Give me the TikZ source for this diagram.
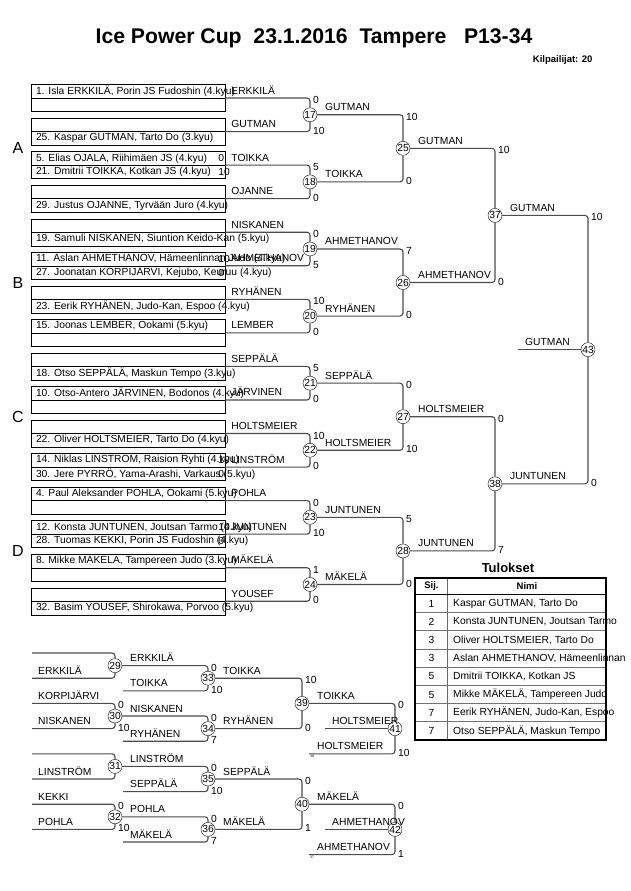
\documentclass[tikz,border=0pt]{standalone}
\usepackage{fontspec}
\setmainfont{Liberation Sans}
\usetikzlibrary{positioning, calc}

\begin{document}
\begin{tikzpicture}[x=1pt, y=-1pt,
        pairbox/.style={rectangle, draw, minimum width=194pt, minimum height=27pt, inner sep=0pt},
        entry/.style={anchor=west, inner sep=0pt, font=\fontsize{10.3}{12}\selectfont},
        plname/.style={anchor=base west, inner sep=0pt, font=\fontsize{10.3}{12}\selectfont},
        pts/.style={anchor=west, inner sep=0pt, font=\fontsize{10.3}{12}\selectfont},
        match/.style={circle, draw, fill=white, minimum size=14pt, inner sep=0pt, font=\fontsize{10.3}{12}\selectfont},
        conn/.style={draw=black!70, line width=1.1pt, rounded corners=3pt},
        pool/.style={font=\fontsize{16}{18}\selectfont}
    ]
        \useasboundingbox[fill=white] (0,0) rectangle (630,891);

        % Title
        \node[font=\fontsize{21.2}{25}\selectfont\bfseries] (title) at (314,38) {Ice Power Cup~~23.1.2016~~Tampere~~~P13-34};
        \node[anchor=east, font=\fontsize{9.5}{11}\selectfont\bfseries] (count) at (596,60) {Kilpailijat: 20};

        % Pools
        \node[pool] (poolA) at (18,148.3) {A};
        \node[pool] (poolB) at (18,282.5) {B};
        \node[pool] (poolC) at (18,416.7) {C};
        \node[pool] (poolD) at (18,550.9) {D};

        % Entry boxes
        \foreach \k/\ta/\tb/\who in {
            1/{1. Isla ERKKILÄ, Porin JS Fudoshin (4.kyu)}/{}/ERKKILÄ,
            2/{}/{25. Kaspar GUTMAN, Tarto Do (3.kyu)}/GUTMAN,
            3/{5. Elias OJALA, Riihimäen JS (4.kyu)}/{21. Dmitrii TOIKKA, Kotkan JS (4.kyu)}/TOIKKA,
            4/{}/{29. Justus OJANNE, Tyrvään Juro (4.kyu)}/OJANNE,
            5/{}/{19. Samuli NISKANEN, Siuntion Keido-Kan (5.kyu)}/NISKANEN,
            6/{11. Aslan AHMETHANOV, Hämeenlinnan Judo (4.kyu)}/{27. Joonatan KORPIJÄRVI, Kejubo, Keuruu (4.kyu)}/AHMETHANOV,
            7/{}/{23. Eerik RYHÄNEN, Judo-Kan, Espoo (4.kyu)}/RYHÄNEN,
            8/{15. Joonas LEMBER, Ookami (5.kyu)}/{}/LEMBER,
            9/{}/{18. Otso SEPPÄLÄ, Maskun Tempo (3.kyu)}/SEPPÄLÄ,
            10/{10. Otso-Antero JÄRVINEN, Bodonos (4.kyu)}/{}/JÄRVINEN,
            11/{}/{22. Oliver HOLTSMEIER, Tarto Do (4.kyu)}/HOLTSMEIER,
            12/{14. Niklas LINSTROM, Raision Ryhti (4.kyu)}/{30. Jere PYRRÖ, Yama-Arashi, Varkaus (5.kyu)}/LINSTRÖM,
            13/{4. Paul Aleksander POHLA, Ookami (5.kyu)}/{}/POHLA,
            14/{12. Konsta JUNTUNEN, Joutsan Tarmo (4.kyu)}/{28. Tuomas KEKKI, Porin JS Fudoshin (4.kyu)}/JUNTUNEN,
            15/{8. Mikke MAKELA, Tampereen Judo (3.kyu)}/{}/MÄKELÄ,
            16/{}/{32. Basim YOUSEF, Shirokawa, Porvoo (5.kyu)}/YOUSEF}{
            \pgfmathsetmacro\yk{98+(\k-1)*33.55}
            \node[pairbox] (p\k) at (128,\yk) {};
            \draw (p\k.west) -- (p\k.east);
            \node[entry] at ([xshift=5pt, yshift=6.75pt]p\k.west) {\ta};
            \node[entry] at ([xshift=5pt, yshift=-6.75pt]p\k.west) {\tb};
            \node[plname] at ([xshift=6pt, yshift=4pt]p\k.east) {\who};
        }

        % Scores of the first bouts
        \node[pts] at ([xshift=-7pt, yshift=6.75pt]p3.east) {0};
        \node[pts] at ([xshift=-7pt, yshift=-6.75pt]p3.east) {10};
        \node[pts] at ([xshift=-7pt, yshift=6.75pt]p6.east) {10};
        \node[pts] at ([xshift=-7pt, yshift=-6.75pt]p6.east) {0};
        \node[pts] at ([xshift=-7pt, yshift=6.75pt]p12.east) {10};
        \node[pts] at ([xshift=-7pt, yshift=-6.75pt]p12.east) {0};
        \node[pts] at ([xshift=-7pt, yshift=6.75pt]p14.east) {10};
        \node[pts] at ([xshift=-7pt, yshift=-6.75pt]p14.east) {0};

        % Matches
        \foreach \m/\x/\y in {17/310/114.78, 18/310/181.88, 19/310/248.98, 20/310/316.08,
            21/310/383.18, 22/310/450.28, 23/310/517.38, 24/310/584.48,
            25/403/148.33, 26/403/282.53, 27/403/416.73, 28/403/550.93,
            37/495/215.43, 38/495/483.83, 43/588/349.63,
            29/115/665.6, 30/115/716, 31/115/766.4, 32/115/816.8,
            33/208/678.2, 34/208/728.6, 35/208/779, 36/208/829.4,
            39/302/703.4, 40/302/804.2, 41/395/728.6, 42/395/829.4}
            \node[match] (m\m) at (\x,\y) {\m};

        % Repechage line ends
        \foreach \i/\y in {1/653, 2/678.2, 3/703.4, 4/728.6, 5/753.8, 6/779, 7/804.2, 8/829.4}
            \coordinate (r\i) at (32,\y);
        \coordinate (s33) at (123,690.8);
        \coordinate (s34) at (123,741.2);
        \coordinate (s35) at (123,791.6);
        \coordinate (s36) at (123,842);
        \coordinate (s41) at (309,753.8);
        \coordinate (s42) at (309,854.6);
        \coordinate (w41) at (325,728.6);
        \coordinate (w42) at (325,829.4);
        \coordinate (w43) at (518,349.63);

        % Connectors
        \foreach \a/\b in {p1/m17, p2/m17, p3/m18, p4/m18, p5/m19, p6/m19, p7/m20, p8/m20,
            p9/m21, p10/m21, p11/m22, p12/m22, p13/m23, p14/m23, p15/m24, p16/m24,
            m17/m25, m18/m25, m19/m26, m20/m26, m21/m27, m22/m27, m23/m28, m24/m28,
            m25/m37, m26/m37, m27/m38, m28/m38, m37/m43, m38/m43,
            r1/m29, r2/m29, r3/m30, r4/m30, r5/m31, r6/m31, r7/m32, r8/m32,
            m29/m33, s33/m33, m30/m34, s34/m34, m31/m35, s35/m35, m32/m36, s36/m36,
            m33/m39, m34/m39, m35/m40, m36/m40, m39/m41, s41/m41, m40/m42, s42/m42}
            \draw[conn] (\a) -| (\b);
        \draw[conn] (w41) -- (m41);
        \draw[conn] (w42) -- (m42);
        \draw[conn] (w43) -- (m43);

        % Scores
        \foreach \a/\b/\s/\d in {p1/m17/0/2, p2/m17/10/-1, p3/m18/5/2, p4/m18/0/-1,
            p5/m19/0/2, p6/m19/5/-1, p7/m20/10/2, p8/m20/0/-1,
            p9/m21/5/2, p10/m21/0/-1, p11/m22/10/2, p12/m22/0/-1,
            p13/m23/0/2, p14/m23/10/-1, p15/m24/1/2, p16/m24/0/-1,
            m17/m25/10/2, m18/m25/0/-1, m19/m26/7/2, m20/m26/0/-1,
            m21/m27/0/2, m22/m27/10/-1, m23/m28/5/2, m24/m28/0/-1,
            m25/m37/10/2, m26/m37/0/-1, m27/m38/0/2, m28/m38/7/-1,
            m37/m43/10/2, m38/m43/0/-1,
            r3/m30/0/2, r4/m30/10/-1, r7/m32/0/2, r8/m32/10/-1,
            m29/m33/0/2, s33/m33/10/-1, m30/m34/0/2, s34/m34/7/-1,
            m31/m35/0/2, s35/m35/10/-1, m32/m36/0/2, s36/m36/7/-1,
            m33/m39/10/2, m34/m39/0/-1, m35/m40/0/2, m36/m40/1/-1,
            m39/m41/0/2, s41/m41/10/-1, m40/m42/0/2, s42/m42/1/-1}
            \node[pts] at ($(\a -| \b)+(3,\d)$) {\s};

        % Winners
        \foreach \m/\w in {17/GUTMAN, 18/TOIKKA, 19/AHMETHANOV, 20/RYHÄNEN, 21/SEPPÄLÄ,
            22/HOLTSMEIER, 23/JUNTUNEN, 24/MÄKELÄ, 25/GUTMAN, 26/AHMETHANOV,
            27/HOLTSMEIER, 28/JUNTUNEN, 37/GUTMAN, 38/JUNTUNEN,
            29/ERKKILÄ, 30/NISKANEN, 31/LINSTRÖM, 32/POHLA, 33/TOIKKA,
            34/RYHÄNEN, 35/SEPPÄLÄ, 36/MÄKELÄ, 39/TOIKKA, 40/MÄKELÄ}
            \node[plname] at ($(m\m)+(15,-4)$) {\w};

        % Repechage names
        \foreach \c/\dx/\w in {r2/6/ERKKILÄ, r3/6/KORPIJÄRVI, r4/6/NISKANEN, r6/6/LINSTRÖM,
            r7/6/KEKKI, r8/6/POHLA, s33/7/TOIKKA, s34/7/RYHÄNEN, s35/7/SEPPÄLÄ,
            s36/7/MÄKELÄ, s41/8/HOLTSMEIER, s42/8/AHMETHANOV, w41/7/HOLTSMEIER,
            w42/7/AHMETHANOV, w43/7/GUTMAN}
            \node[plname] at ($(\c)+(\dx,-4)$) {\w};
        \node[anchor=north west, inner sep=0pt, font=\fontsize{3.5}{4}\selectfont] (src38) at ($(s41)+(1,1.5)$) {38};
        \node[anchor=north west, inner sep=0pt, font=\fontsize{3.5}{4}\selectfont] (src37) at ($(s42)+(1,1.5)$) {37};

        % Results
        \node[font=\fontsize{13}{15}\selectfont\bfseries] (results) at (508,568) {Tulokset};
        \draw[line width=0.8pt, black!60] (447,578) -- (447,740);
        \foreach \i in {1,...,7}
            \draw[line width=1pt, black!55] (415,{594.5+\i*18.19}) -- (606,{594.5+\i*18.19});
        \draw[line width=1.2pt] (415,594.5) -- (606,594.5);
        \draw[line width=1.6pt] (415,578) rectangle (606,740);
        \node[font=\fontsize{9.5}{11}\selectfont\bfseries] (hsij) at (431.5,586.5) {Sij.};
        \node[font=\fontsize{9.5}{11}\selectfont\bfseries] (hnimi) at (527,586.5) {Nimi};
        \foreach \s/\n [count=\r] in {1/{Kaspar GUTMAN, Tarto Do}, 2/{Konsta JUNTUNEN, Joutsan Tarmo},
            3/{Oliver HOLTSMEIER, Tarto Do}, 3/{Aslan AHMETHANOV, Hämeenlinnan},
            5/{Dmitrii TOIKKA, Kotkan JS}, 5/{Mikke MÄKELÄ, Tampereen Judo},
            7/{Eerik RYHÄNEN, Judo-Kan, Espoo}, 7/{Otso SEPPÄLÄ, Maskun Tempo}}{
            \node[pts, anchor=center] at (431.5,{594.5+(\r-0.5)*18.19}) {\s};
            \node[entry] at (453,{594.5+(\r-0.5)*18.19}) {\n};
        }
    \end{tikzpicture}
\end{document}
